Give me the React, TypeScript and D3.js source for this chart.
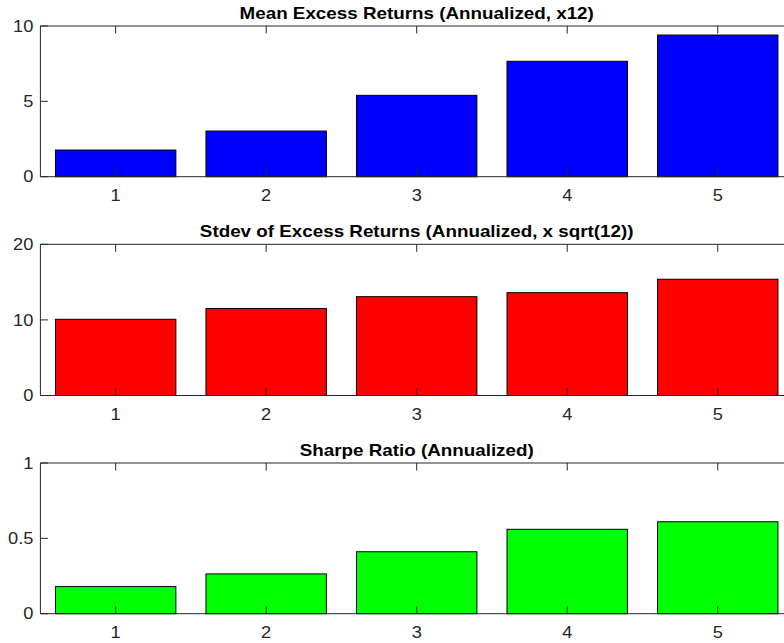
import React from "react";
import * as d3 from "d3";

// Portfolio categories (quintiles)
const portfolios = [1, 2, 3, 4, 5];

// Annualized mean excess returns (x12)
const meanExcess = [1.77, 3.03, 5.4, 7.66, 9.4];
// Annualized standard deviation of excess returns (x sqrt(12))
const stdevExcess = [10.08, 11.5, 13.07, 13.6, 15.38];
// Annualized Sharpe ratio
const sharpe = [0.18, 0.264, 0.411, 0.56, 0.61];

const meanTicks = [0, 5, 10];
const stdevTicks = [0, 10, 20];
const sharpeTicks = [0, 0.5, 1];

const W = 784;
const H = 643;
const LEFT = 40.4;
const RIGHT = 793;
const FONT = "'Liberation Sans', Arial, Helvetica, sans-serif";
const AXIS = "#262626";
const STRETCH = 1.14;

type LabelProps = {
  x: number;
  y: number;
  anchor: "start" | "middle" | "end";
  size: number;
  bold?: boolean;
  fill: string;
  dy?: string;
  children: React.ReactNode;
};

function Label({ x, y, anchor, size, bold, fill, dy, children }: LabelProps) {
  return (
    <text
      transform={`translate(${x},${y}) scale(${STRETCH},1)`}
      dy={dy}
      textAnchor={anchor}
      fontFamily={FONT}
      fontSize={size}
      fontWeight={bold ? "bold" : "normal"}
      fill={fill}
    >
      {children}
    </text>
  );
}

type PanelProps = {
  title: string;
  values: number[];
  ticks: number[];
  color: string;
  top: number;
  bottom: number;
};

function Panel({ title, values, ticks, color, top, bottom }: PanelProps) {
  const x = d3.scaleLinear().domain([0.5, 5.5]).range([LEFT, RIGHT]);
  const y = d3
    .scaleLinear()
    .domain([ticks[0], ticks[ticks.length - 1]])
    .range([bottom, top]);
  const bw = x(0.8) - x(0);
  const tickLen = 7.5;
  return (
    <g>
      {/* bars */}
      {values.map((v, i) => (
        <rect
          key={i}
          x={x(portfolios[i]) - bw / 2}
          y={y(v)}
          width={bw}
          height={y(0) - y(v)}
          fill={color}
          stroke="#000"
          strokeWidth={1}
        />
      ))}
      {/* axis box: left, top, bottom */}
      <line x1={LEFT} x2={RIGHT} y1={top} y2={top} stroke={AXIS} strokeWidth={1} />
      <line x1={LEFT} x2={RIGHT} y1={bottom} y2={bottom} stroke={AXIS} strokeWidth={1} />
      <line x1={LEFT} x2={LEFT} y1={top} y2={bottom} stroke={AXIS} strokeWidth={1} />
      {/* x ticks (inward, bottom and top) */}
      {portfolios.map((p) => (
        <g key={p}>
          <line x1={x(p)} x2={x(p)} y1={bottom} y2={bottom - tickLen} stroke={AXIS} strokeWidth={1} />
          <line x1={x(p)} x2={x(p)} y1={top} y2={top + tickLen} stroke={AXIS} strokeWidth={1} />
          <Label x={x(p)} y={bottom + 24.6} anchor="middle" size={16} fill={AXIS}>
            {p}
          </Label>
        </g>
      ))}
      {/* y ticks */}
      {ticks.map((t) => (
        <g key={t}>
          <line x1={LEFT} x2={LEFT + tickLen} y1={y(t)} y2={y(t)} stroke={AXIS} strokeWidth={1} />
          <Label x={LEFT - 7} y={y(t)} dy="0.36em" anchor="end" size={16} fill={AXIS}>
            {t}
          </Label>
        </g>
      ))}
      <Label x={(LEFT + RIGHT) / 2} y={top - 7.5} anchor="middle" size={16.5} bold fill="#000">
        {title}
      </Label>
    </g>
  );
}

export default function App() {
  return (
    <svg
      width={W}
      height={H}
      style={{ position: "absolute", left: 0, top: 0, background: "#fff" }}
    >
      <rect width={W} height={H} fill="#fff" />
      <Panel
        title="Mean Excess Returns (Annualized, x12)"
        values={meanExcess}
        ticks={meanTicks}
        color="#0000ff"
        top={26}
        bottom={176.7}
      />
      <Panel
        title="Stdev of Excess Returns (Annualized, x sqrt(12))"
        values={stdevExcess}
        ticks={stdevTicks}
        color="#ff0000"
        top={244.3}
        bottom={395.5}
      />
      <Panel
        title="Sharpe Ratio (Annualized)"
        values={sharpe}
        ticks={sharpeTicks}
        color="#00ff00"
        top={463}
        bottom={613.7}
      />
    </svg>
  );
}
